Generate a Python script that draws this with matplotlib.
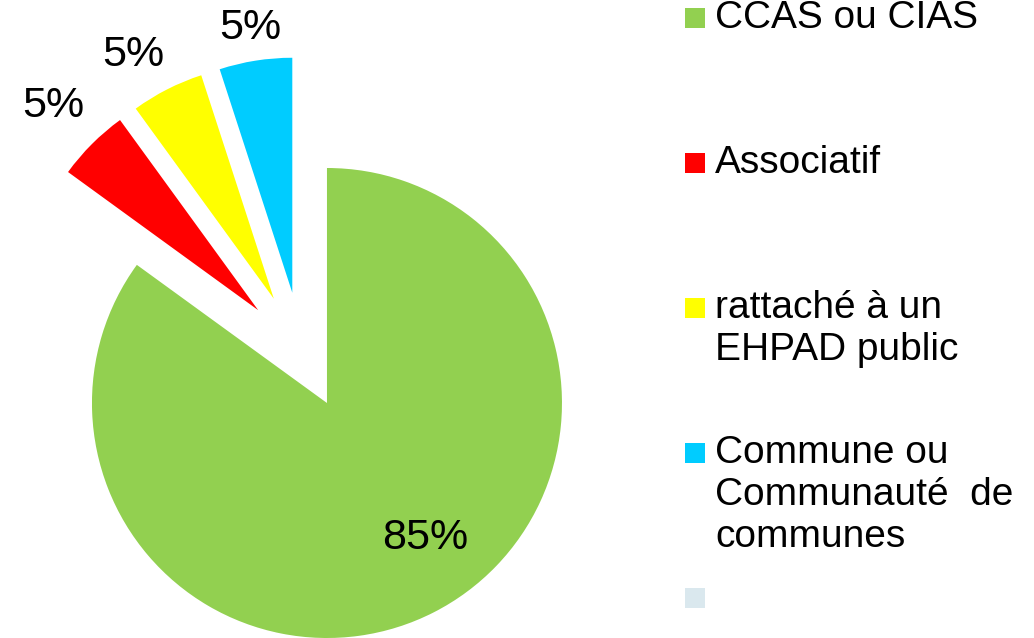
import numpy as np
import matplotlib
matplotlib.use('Agg')
import matplotlib.pyplot as plt
from matplotlib.patches import Rectangle

plt.rcParams['font.family'] = ['Liberation Sans', 'DejaVu Sans']

# -- Data ---------------------------------------------------------------------
categories = ['CCAS ou CIAS', 'Associatif', 'rattaché à un\nEHPAD public',
              'Commune ou\nCommunauté  de\ncommunes', '']
values = [85, 5, 5, 5, 0]
colors = ['#92D050', '#FF0000', '#FFFF00', '#00CCFF', '#DAE8EE']

# -- Layout (pixel units, y up) -----------------------------------------------
W, H = 1034, 638
center = (302, H - 354)
radius = 235
explode_px = [55, 62, 62, 62]
label_dist = [0.71, 1.23, 1.20, 1.14]
label_shift = [9, 0, 3, 0]   # degrees, nudge from bisector

fig = plt.figure(figsize=(W / 100, H / 100), dpi=100)
ax = fig.add_axes([0, 0, 1, 1])

shown = [i for i, v in enumerate(values) if v > 0]
wedges, _ = ax.pie([values[i] for i in shown],
                   colors=[colors[i] for i in shown],
                   startangle=90, counterclock=False,
                   explode=explode_px,
                   radius=radius, center=center,
                   wedgeprops=dict(linewidth=0))

for k, w in enumerate(wedges):
    ang = np.deg2rad(0.5 * (w.theta1 + w.theta2) + label_shift[k])
    cx, cy = w.center
    r = label_dist[k] * radius
    ax.text(cx + r * np.cos(ang), cy + r * np.sin(ang),
            f'{values[shown[k]]}%', fontsize=31, ha='center', va='center',
            color='black')

# -- Legend -------------------------------------------------------------------
leg_x = 685
leg_y0 = 18
leg_step = 145
line_h = 42
box = 20
for i, (lab, col) in enumerate(zip(categories, colors)):
    yc = H - (leg_y0 + i * leg_step)
    ax.add_patch(Rectangle((leg_x, yc - box / 2), box, box,
                           facecolor=col, edgecolor='none'))
    for j, line in enumerate(lab.split('\n')):
        ax.text(leg_x + 30, yc - j * line_h, line, fontsize=28,
                ha='left', va='center', color='black')

ax.set_xlim(0, W)
ax.set_ylim(0, H)
ax.set_aspect('equal')
ax.axis('off')

fig.savefig('out.png', dpi=100)
